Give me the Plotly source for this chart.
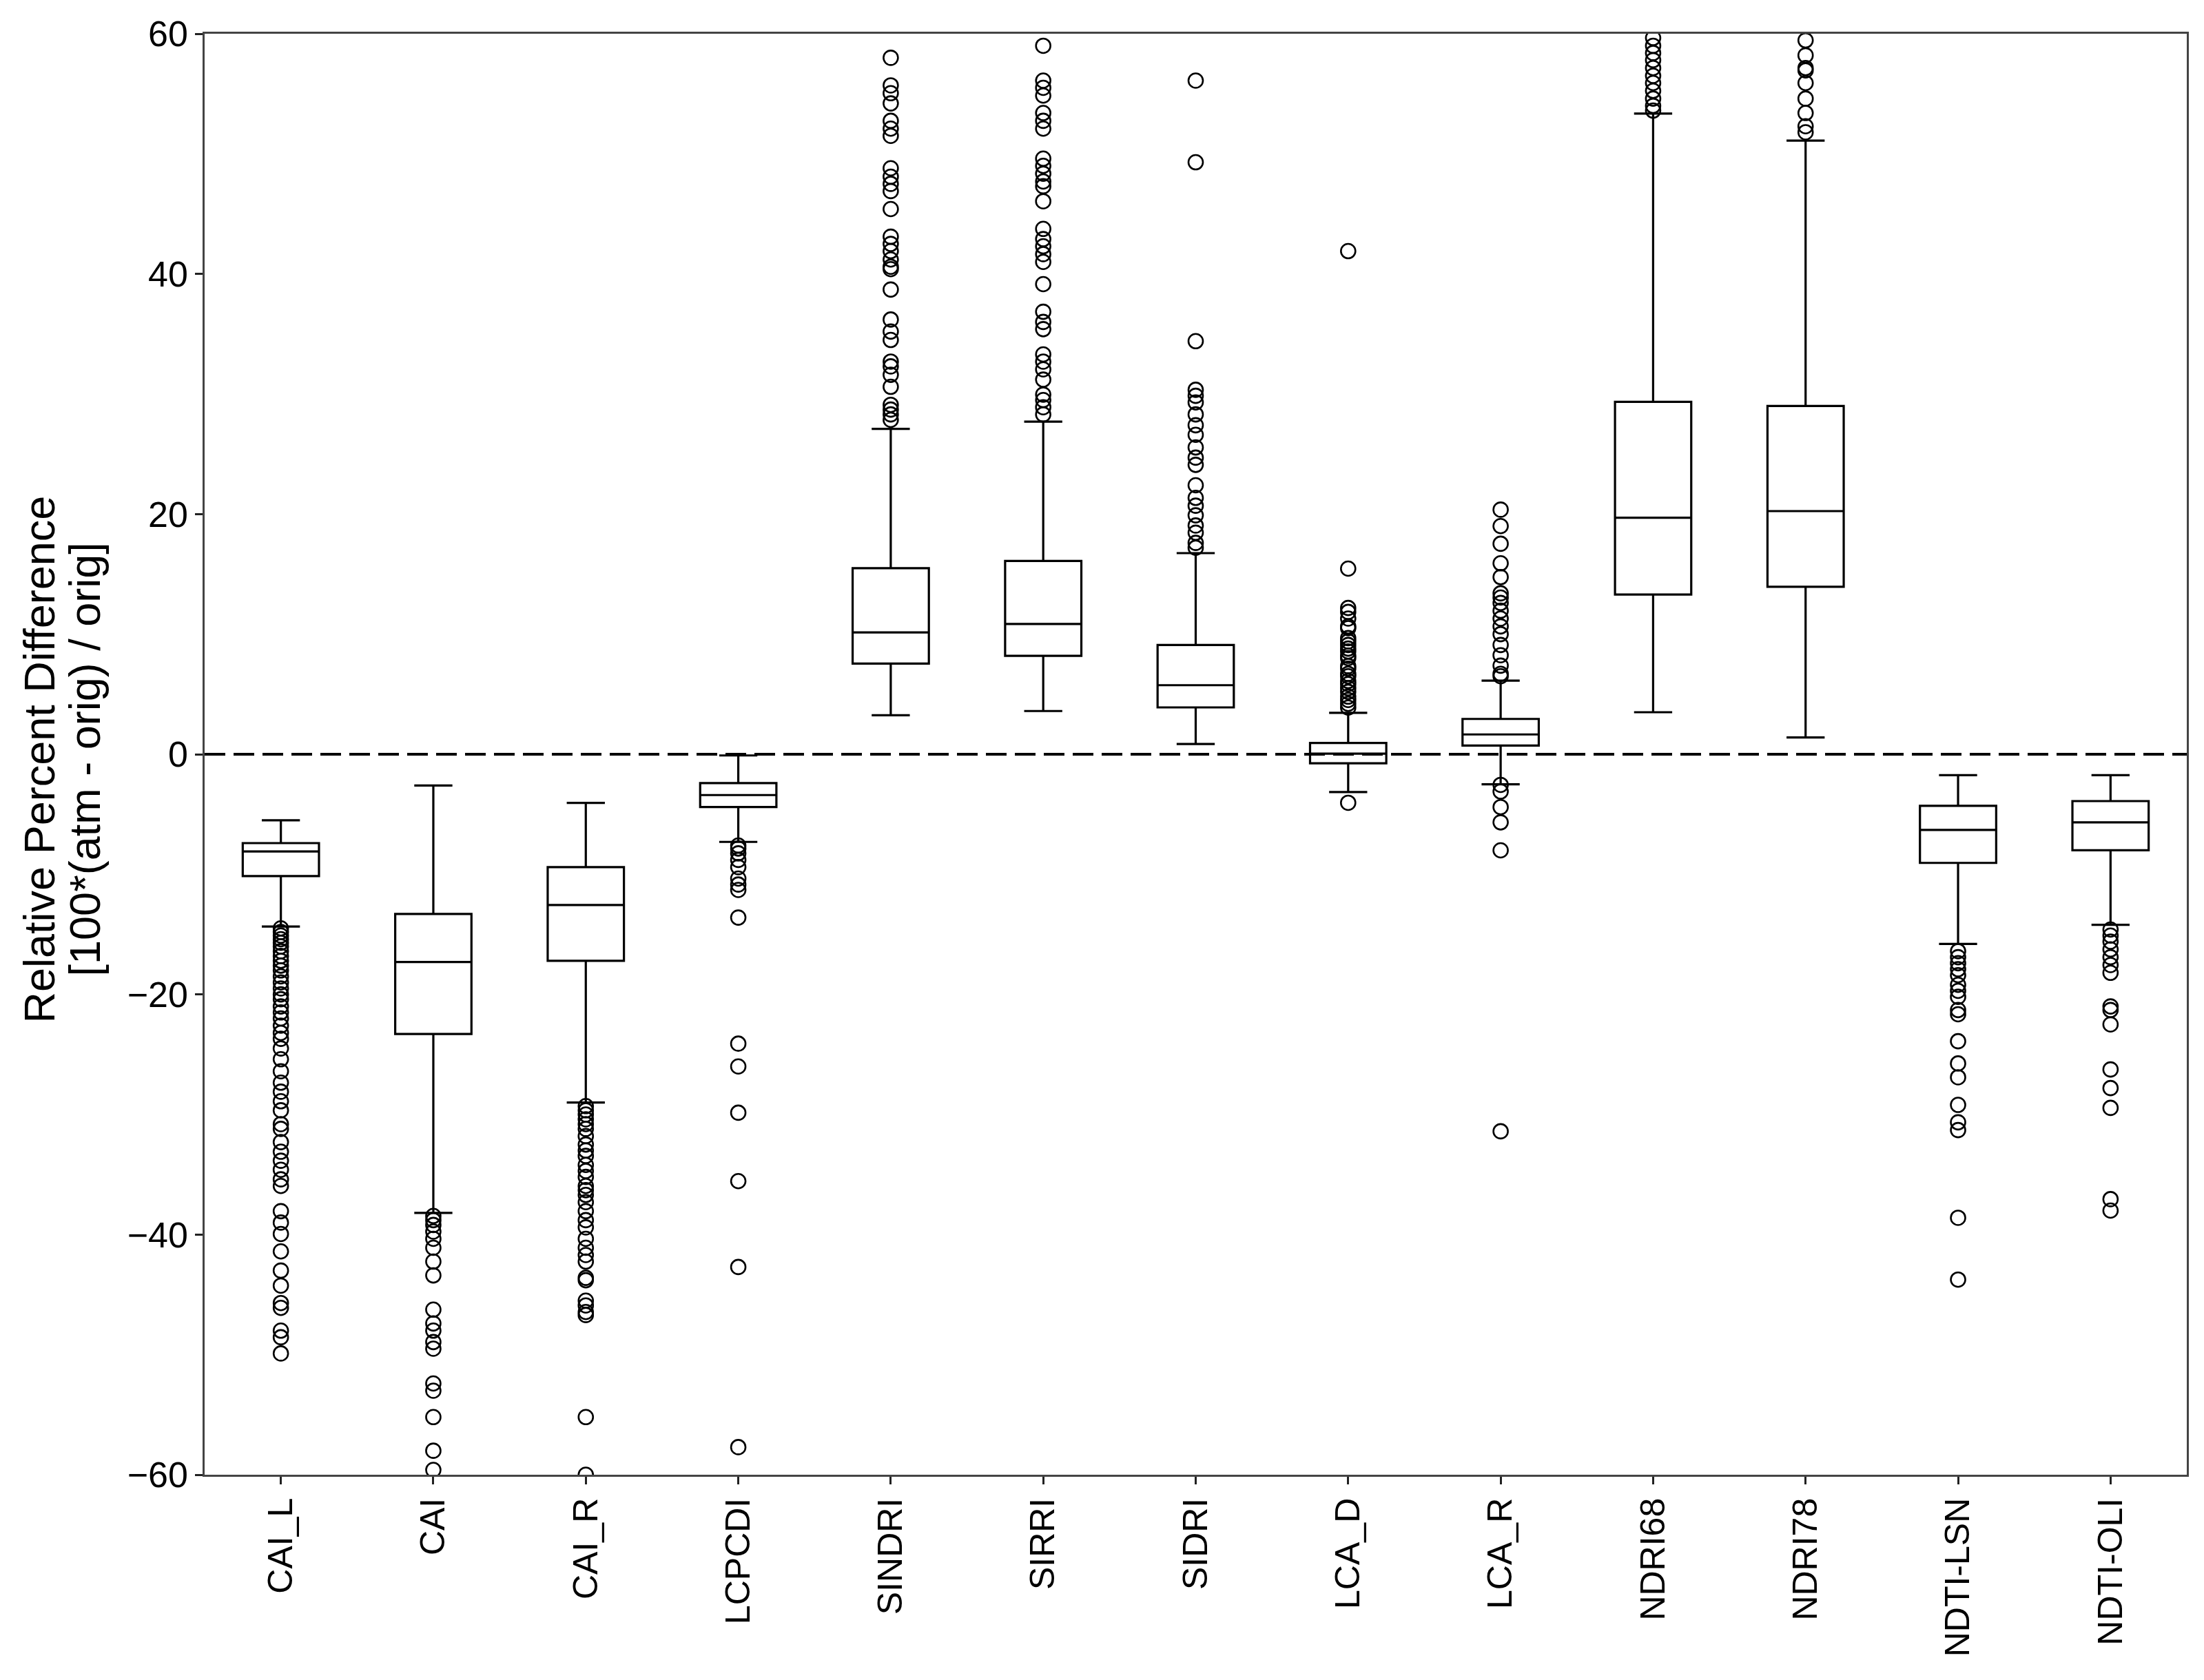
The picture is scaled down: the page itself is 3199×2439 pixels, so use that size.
import plotly.graph_objects as go

categories = ["CAI_L", "CAI", "CAI_R", "LCPCDI", "SINDRI", "SIRRI", "SIDRI",
              "LCA_D", "LCA_R", "NDRI68", "NDRI78", "NDTI-LSN", "NDTI-OLI"]

q1 =     [-10.15, -23.3, -17.2, -4.4, 7.55, 8.2, 3.9, -0.75, 0.72, 13.3, 13.95, -9.05, -8.0]
median = [-8.1, -17.3, -12.55, -3.4, 10.15, 10.85, 5.75, 0.05, 1.65, 19.7, 20.25, -6.3, -5.67]
q3 =     [-7.4, -13.3, -9.4, -2.4, 15.5, 16.1, 9.1, 0.94, 2.94, 29.35, 29.0, -4.3, -3.9]
lower_whisker = [-14.35, -38.2, -29.0, -7.3, 3.25, 3.6, 0.85, -3.15, -2.5, 3.5, 1.4, -15.8, -14.2]
upper_whisker = [-5.5, -2.6, -4.05, -0.1, 27.1, 27.7, 16.75, 3.45, 6.13, 53.35, 51.1, -1.74, -1.74]

out_CAI_L = [-14.5, -14.8, -15.1, -15.4, -15.7, -16.0, -16.4, -16.8, -17.2, -17.6, -18.0,
             -18.5, -19.0, -19.5, -20.0, -20.4, -21.0, -21.5, -22.0, -22.6, -23.2, -23.7,
             -24.5, -25.4, -26.4, -27.35, -28.1, -28.9, -29.65, -30.8, -31.2, -32.3, -33.1,
             -33.85, -34.6, -35.4, -35.95, -38.05, -39.0, -39.95, -41.4, -43.0, -44.25,
             -45.7, -46.1, -48.0, -48.55, -49.9]
out_CAI = [-38.45, -38.8, -39.2, -39.75, -40.35, -41.1, -42.25, -43.4, -46.25, -47.4,
           -48.0, -48.95, -49.5, -52.4, -53.0, -55.2, -58.0, -59.6]
out_CAI_R = [-29.3, -29.65, -30.0, -30.4, -30.8, -31.2, -31.8, -32.5, -33.0, -33.45, -34.2,
             -34.7, -35.2, -35.95, -36.3, -36.7, -37.3, -38.05, -38.8, -39.4, -40.35, -41.1,
             -41.7, -42.25, -43.6, -43.8, -45.5, -45.9, -46.45, -46.7, -55.2, -60.0]
out_LCPCDI = [-7.6, -7.85, -8.25, -8.8, -9.4, -10.35, -10.85, -11.3, -13.6, -24.1, -26.0,
              -29.85, -35.55, -42.7, -57.7]
out_SINDRI = [27.85, 28.3, 28.7, 29.1, 30.6, 31.6, 32.3, 32.7, 34.5, 35.2, 36.2, 38.7,
              40.4, 40.6, 41.2, 41.9, 42.5, 43.1, 45.4, 46.9, 47.5, 48.1, 48.8, 51.5,
              52.1, 52.75, 54.2, 55.05, 55.7, 58.0]
out_SIRRI = [28.3, 28.9, 29.5, 29.95, 31.2, 32.05, 32.7, 33.3, 35.4, 36.0, 36.85, 39.15,
             41.0, 41.65, 42.3, 42.9, 43.75, 46.05, 47.3, 47.7, 48.35, 49.0, 49.6, 52.1,
             52.75, 53.4, 54.85, 55.5, 56.1, 59.0]
out_SIDRI = [17.2, 17.6, 18.45, 19.05, 19.9, 20.7, 21.35, 22.4, 24.1, 24.7, 25.55, 26.6,
             27.4, 28.3, 29.3, 29.85, 30.35, 34.4, 49.3, 56.1]
out_LCA_D = [3.89, 4.2, 4.52, 4.8, 5.2, 5.5, 5.84, 6.1, 6.5, 6.7, 7.13, 7.35, 8.0, 8.2,
             8.56, 8.8, 9.1, 9.4, 9.67, 10.5, 10.65, 11.3, 11.85, 12.18, 15.46, 41.9, -4.04]
out_LCA_R = [6.5, 6.7, 7.38, 8.25, 9.1, 10.0, 10.65, 11.3, 11.95, 12.6, 13.05, 13.4,
             14.75, 15.9, 17.53, 19.0, 20.37, -2.55, -3.1, -4.4, -5.67, -8.0, -31.4]
out_NDRI68 = [53.6, 54.0, 54.6, 55.25, 55.9, 56.5, 57.15, 57.8, 58.4, 59.0, 59.65]
out_NDRI78 = [51.8, 52.3, 53.4, 54.6, 55.9, 56.95, 57.15, 58.2, 59.45]
out_NDTI_LSN = [-16.4, -16.9, -17.4, -17.9, -18.4, -19.2, -19.7, -20.2, -21.3, -21.65,
                -23.9, -25.75, -26.9, -29.2, -30.65, -31.3, -38.6, -43.75]
out_NDTI_OLI = [-14.6, -15.1, -15.6, -16.25, -16.9, -17.55, -18.2, -21.0, -21.3, -22.5,
                -26.25, -27.8, -29.45, -37.05, -38.0]

outliers = [out_CAI_L, out_CAI, out_CAI_R, out_LCPCDI, out_SINDRI, out_SIRRI, out_SIDRI,
            out_LCA_D, out_LCA_R, out_NDRI68, out_NDRI78, out_NDTI_LSN, out_NDTI_OLI]

y_ticks = [-60, -40, -20, 0, 20, 40, 60]
y_title_1 = "Relative Percent Difference"
y_title_2 = "[100*(atm - orig) / orig]"

FONT = "Liberation Sans, Arial, sans-serif"

fig = go.Figure()
fig.add_trace(go.Box(
    x=categories, q1=q1, median=median, q3=q3,
    lowerfence=lower_whisker, upperfence=upper_whisker,
    boxpoints=False, width=0.5, whiskerwidth=0.5,
    line=dict(color="black", width=3.2),
    fillcolor="rgba(0,0,0,0)", showlegend=False, hoverinfo="skip",
))

ox, oy = [], []
for cat, vals in zip(categories, outliers):
    ox += [cat] * len(vals)
    oy += vals
fig.add_trace(go.Scatter(
    x=ox, y=oy, mode="markers", showlegend=False, hoverinfo="skip",
    marker=dict(symbol="circle-open", size=21, color="black", line=dict(width=2.6)),
))

fig.add_shape(type="line", xref="paper", yref="y", x0=0, x1=1, y0=0, y1=0,
              line=dict(color="black", width=4, dash="30px,12px"), layer="above")

# page offset of the figure (browser body margin)
OFF = 8
W, H = 3199 - OFF, 2439 - OFF
ml, mr, mt, mb = 297 - OFF, 25, 38 - OFF, 298
pw = W - ml - mr
ph = H - mt - mb

def px_to_paper_x(px):
    return (px - OFF - ml) / pw

def px_to_paper_y(py):
    return (H - mb - (py - OFF)) / ph

fig.add_annotation(text=y_title_1, xref="paper", yref="paper",
                   x=px_to_paper_x(57), y=px_to_paper_y(1097), xanchor="center", yanchor="middle",
                   textangle=-90, showarrow=False, font=dict(family=FONT, size=63, color="black"))
fig.add_annotation(text=y_title_2, xref="paper", yref="paper",
                   x=px_to_paper_x(123), y=px_to_paper_y(1097), xanchor="center", yanchor="middle",
                   textangle=-90, showarrow=False, font=dict(family=FONT, size=63, color="black"))

fig.update_layout(
    width=W, height=H,
    margin=dict(l=ml, r=mr, t=mt, b=mb, pad=0),
    paper_bgcolor="white", plot_bgcolor="white",
    font=dict(family=FONT, color="black"),
    boxmode="overlay",
)
fig.update_xaxes(
    type="category", categoryorder="array", categoryarray=categories,
    range=[-0.5, len(categories) - 0.5],
    showgrid=False, zeroline=False,
    showline=True, linecolor="#444444", linewidth=2.5, mirror=True,
    ticks="outside", ticklen=11, tickwidth=2.5, tickcolor="#222222",
    tickangle=-90, tickfont=dict(family=FONT, size=50, color="black"),
)
fig.update_yaxes(
    range=[-60, 60], tickvals=y_ticks,
    showgrid=False, zeroline=False,
    showline=True, linecolor="#444444", linewidth=2.5, mirror=True,
    ticks="outside", ticklen=11, tickwidth=2.5, tickcolor="#222222",
    tickfont=dict(family=FONT, size=52, color="black"),
)

fig.write_html("out.html")
